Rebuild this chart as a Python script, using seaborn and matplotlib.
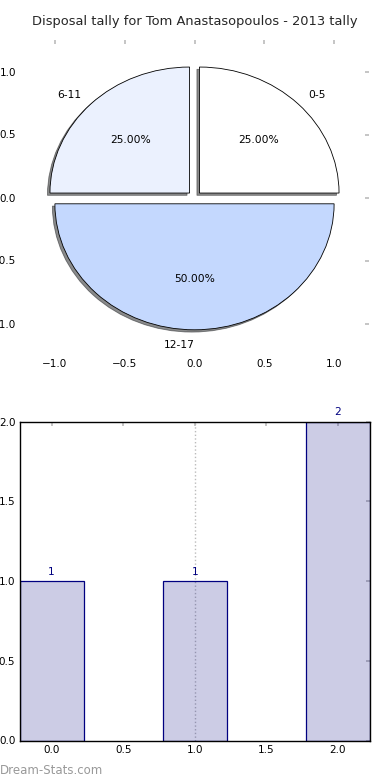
import matplotlib
matplotlib.use("Agg")
import matplotlib.pyplot as plt
import seaborn as sns
import pandas as pd

# ---- data ----
pie_labels = ["0-5", "6-11", "12-17"]
pie_values = [25, 25, 50]
pie_colors = ["#FFFFFF", "#EBF1FE", "#C4D8FE"]
pie_explode = [0.05, 0.05, 0.05]

bar_x = [0, 1, 2]
bar_counts = [1, 1, 2]

title = "Disposal tally for Tom Anastasopoulos - 2013 tally"
watermark = "Dream-Stats.com"

sns.set_theme(style="white")
plt.rcParams["font.family"] = ["DejaVu Sans"]
plt.rcParams.update({
    "xtick.direction": "in", "ytick.direction": "in",
    "xtick.color": "#BBBBBB", "ytick.color": "#BBBBBB",
    "xtick.labelcolor": "black", "ytick.labelcolor": "black",
    "xtick.labelsize": 7.5, "ytick.labelsize": 7.5,
    "xtick.major.size": 3, "ytick.major.size": 3,
    "xtick.major.width": 1.2, "ytick.major.width": 1.2,
    "xtick.top": True, "ytick.right": True,
})

fig = plt.figure(figsize=(3.9, 7.8), dpi=100)
W, H = 390, 780
ax1 = fig.add_axes([20 / W, 1 - 355 / H, 349 / W, 315 / H])
ax2 = fig.add_axes([19.5 / W, 1 - 740.5 / H, 350.5 / W, 319 / H])

# ---- pie ----
wedges, texts, autotexts = ax1.pie(
    pie_values, labels=pie_labels, colors=pie_colors, explode=pie_explode,
    autopct="%1.2f%%", shadow={"ox": -0.013, "oy": -0.013, "shade": 0.9},
    startangle=0,
    wedgeprops=dict(edgecolor="black", linewidth=0.6),
    textprops=dict(fontsize=7.7, color="black"),
)
# bottom label sits just left of centre in the reference
x_lab, y_lab = texts[2].get_position()
texts[2].set_ha("right")
texts[2].set_position((x_lab, y_lab - 0.02))
ax1.set_aspect("auto")
ax1.set_xlim(-1.25, 1.25)
ax1.set_ylim(-1.25, 1.25)
ax1.set_frame_on(False)
ax1.set_xticks([-1.0, -0.5, 0.0, 0.5, 1.0])
ax1.set_yticks([-1.0, -0.5, 0.0, 0.5, 1.0])
ax1.tick_params(axis="both", which="both", top=True, right=True,
                labelbottom=True, labelleft=True, pad=3)
ax1.set_title(title, fontsize=9.4, pad=11)

# ---- bars ----
df = pd.DataFrame({"x": bar_x, "count": bar_counts})
sns.barplot(data=df, x="x", y="count", native_scale=True, width=0.45,
            color="navy", ax=ax2, errorbar=None)
for p in ax2.patches:
    p.set_alpha(None)
    p.set_facecolor((0, 0, 0.5019, 0.2))
    p.set_edgecolor("navy")
    p.set_linewidth(0.9)
for xv, cv in zip(bar_x, bar_counts):
    ax2.annotate(f"{cv}", xy=(xv, cv), xytext=(0, 3), textcoords="offset points",
                 ha="center", va="bottom", fontsize=7.7, color="navy")
ax2.axvline(bar_x[len(bar_x) // 2], color="#BBBBBB", linestyle=":", linewidth=1, zorder=0)
ax2.set_xlim(bar_x[0] - 0.225, bar_x[-1] + 0.225)
ax2.set_ylim(0, max(bar_counts))
ax2.set_xticks([0.0, 0.5, 1.0, 1.5, 2.0])
ax2.set_yticks([0.0, 0.5, 1.0, 1.5, 2.0])
ax2.xaxis.set_major_formatter(matplotlib.ticker.FormatStrFormatter("%.1f"))
ax2.yaxis.set_major_formatter(matplotlib.ticker.FormatStrFormatter("%.1f"))
ax2.set_xlabel("")
ax2.set_ylabel("")
for s in ax2.spines.values():
    s.set_visible(True)
    s.set_color("black")
    s.set_linewidth(1)
ax2.tick_params(axis="both", top=True, right=True, pad=3)

fig.text(0.0, 1 - 770 / H, watermark, fontsize=8.5, color="#999999",
         ha="left", va="center")

fig.savefig("out.png", dpi=100)
